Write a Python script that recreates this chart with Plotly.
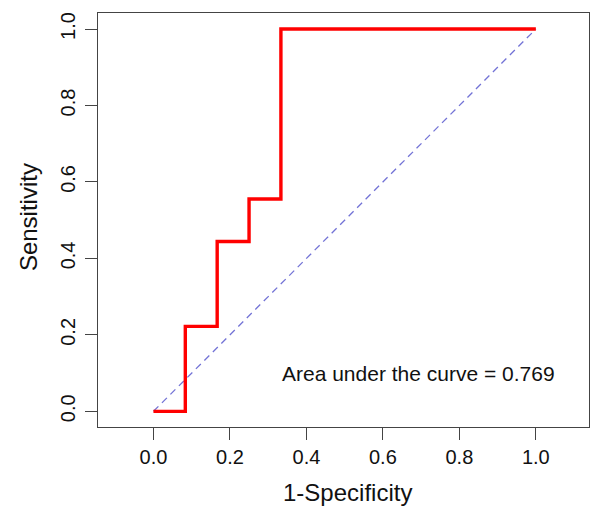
import plotly.graph_objects as go

# ROC curve data (1-Specificity, Sensitivity)
fpr = [0.0, 1/12, 1/12, 2/12, 2/12, 3/12, 3/12, 4/12, 4/12, 1.0]
tpr = [0.0, 0.0, 2/9, 2/9, 4/9, 4/9, 5/9, 5/9, 1.0, 1.0]
diag_x = [0.0, 1.0]
diag_y = [0.0, 1.0]
tick_vals = [0.0, 0.2, 0.4, 0.6, 0.8, 1.0]
tick_text = ["0.0", "0.2", "0.4", "0.6", "0.8", "1.0"]
auc_label = "Area under the curve = 0.769"
x_title = "1-Specificity"
y_title = "Sensitivity"

font = "Liberation Sans, Arial, sans-serif"
txt = "#111"

fig = go.Figure()
fig.add_trace(go.Scatter(x=diag_x, y=diag_y, mode="lines",
                         line=dict(color="#7373d6", width=1.3, dash="7px,5px"),
                         hoverinfo="skip"))
fig.add_trace(go.Scatter(x=fpr, y=tpr, mode="lines",
                         line=dict(color="#ff0000", width=3.4),
                         hoverinfo="skip"))

fig.add_annotation(x=0.694, y=0.1, text=auc_label, showarrow=False,
                   xanchor="center", yanchor="middle",
                   font=dict(family=font, size=21, color=txt))
fig.add_annotation(x=0.508, y=-0.159, xref="paper", yref="paper",
                   text=x_title, showarrow=False,
                   xanchor="center", yanchor="middle",
                   font=dict(family=font, size=24, color=txt))
fig.add_annotation(x=-0.1426, y=0.507, xref="paper", yref="paper",
                   text=y_title, showarrow=False, textangle=-90,
                   xanchor="center", yanchor="middle",
                   font=dict(family=font, size=24, color=txt))

axis_common = dict(showgrid=False, zeroline=False, showline=True, mirror=True,
                   linecolor="#444", linewidth=1.3, ticks="outside", ticklen=12,
                   tickcolor="#444", tickwidth=1.3, automargin=False,
                   tickvals=tick_vals, ticktext=tick_text,
                   tickfont=dict(family=font, size=20, color=txt))

# page body has an 8px default margin, so the figure is sized to fit the window
fig.update_layout(
    width=593, height=510,
    margin=dict(l=90, r=12, t=5, b=91),
    paper_bgcolor="white", plot_bgcolor="white",
    showlegend=False,
    xaxis=dict(range=[-0.145, 1.139], **axis_common),
    yaxis=dict(range=[-0.041, 1.042], tickangle=-90, ticklabelstandoff=2,
               **axis_common),
)

fig.write_html("out.html")
